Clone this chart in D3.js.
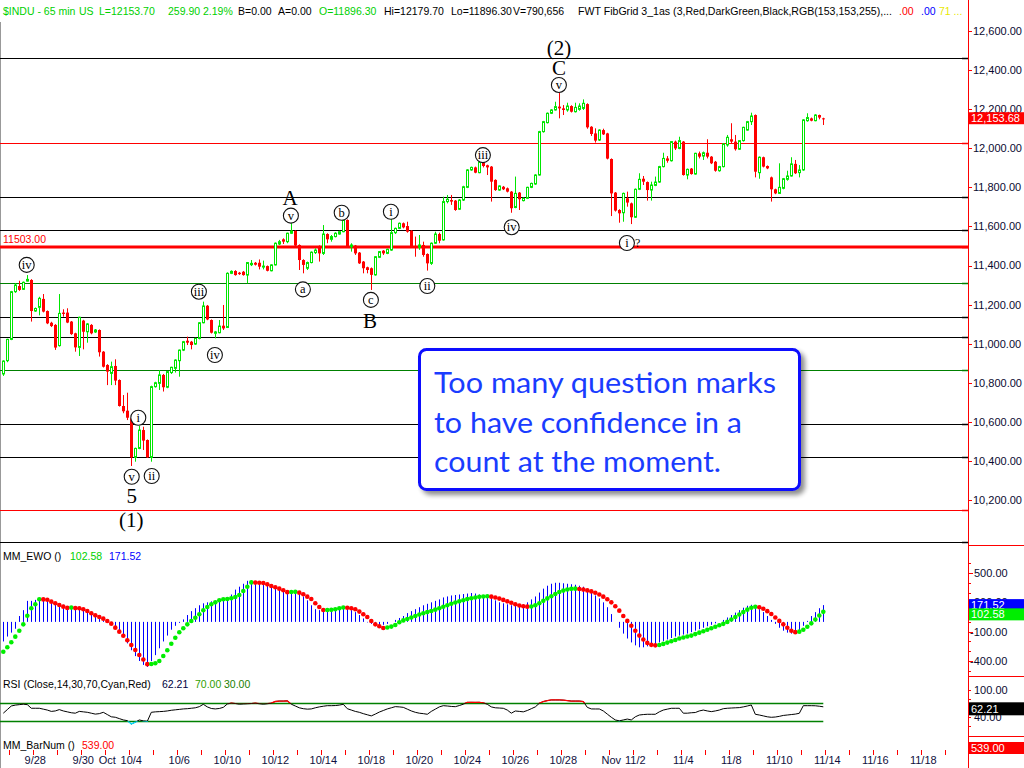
<!DOCTYPE html>
<html><head><meta charset="utf-8">
<script src="https://cdn.jsdelivr.net/npm/d3@7/dist/d3.min.js"></script>
<style>
html,body{margin:0;padding:0;background:#fff;overflow:hidden}
svg{display:block}
</style></head>
<body>
<svg id="chart" width="1024" height="768"></svg>
<script>
// ---------------- DATA ----------------
const opens = [10845,10913,11022,11266,11295,11278,11320,11326,11167,11186,11229,11167,11107,11096,10990,11159,11159,11113,11053,10981,11118,11061,11096,11060,11070,10959,10891,10848,10886,10814,10681,10657,10618,10418,10464,10558,10507,10418,10780,10797,10840,10777,10852,10874,10913,10967,11015,11010,10998,11027,11107,11194,11121,11053,11056,11092,11083,11360,11372,11363,11368,11351,11404,11414,11414,11394,11397,11373,11403,11510,11534,11522,11565,11577,11505,11428,11386,11415,11466,11500,11462,11561,11534,11548,11561,11573,11633,11496,11502,11466,11420,11391,11386,11352,11442,11476,11462,11479,11568,11590,11616,11602,11578,11500,11493,11505,11459,11411,11514,11561,11531,11727,11735,11732,11688,11735,11800,11889,11902,11875,11935,11913,11906,11838,11786,11803,11795,11778,11697,11773,11732,11744,11800,11817,11863,12085,12131,12179,12196,12213,12204,12196,12216,12187,12199,12204,12226,12110,12076,12042,12093,12076,11945,11773,11684,11670,11744,11718,11647,11790,11844,11827,11786,11810,11827,11906,11948,11936,12034,11999,12034,11863,11896,11868,11974,11960,11977,11957,11931,11885,11906,12017,12046,12034,11995,12039,12093,12136,12170,11875,11954,11909,11851,11790,11769,11795,11841,11858,11920,11875,11889,12141,12153,12141,12170,12153];
const highs = [10915,11025,11270,11310,11322,11318,11351,11330,11185,11240,11254,11170,11112,11100,11254,11176,11181,11116,11056,11138,11122,11105,11100,11075,11073,10962,10895,10908,10920,10817,10737,10749,10622,10468,10580,10575,10510,10785,10805,10865,10845,10860,10882,10920,10970,11014,11036,11014,11030,11110,11215,11198,11124,11065,11121,11198,11365,11375,11376,11367,11372,11418,11428,11418,11431,11425,11400,11406,11518,11531,11539,11568,11624,11580,11508,11432,11420,11472,11488,11503,11607,11565,11556,11570,11578,11636,11636,11514,11505,11469,11423,11394,11390,11448,11474,11479,11486,11641,11594,11620,11620,11624,11581,11548,11556,11522,11462,11518,11573,11568,11752,11761,11761,11735,11740,11808,11893,11906,11906,11935,11940,11916,11909,11841,11810,11807,11799,11781,11855,11776,11748,11803,11824,11867,12089,12140,12183,12200,12238,12285,12221,12233,12220,12233,12230,12250,12230,12113,12102,12097,12100,12079,11948,11776,11688,11773,11778,11722,11794,11872,11858,11830,11829,11855,11910,11977,11960,12037,12039,12059,12037,11896,11899,11977,11983,11983,12046,11960,11935,11910,12026,12068,12128,12068,12042,12110,12140,12182,12173,11958,11957,11912,11855,11793,11923,11848,11885,11954,11940,11914,12149,12179,12157,12174,12172,12156];
const lows = [10835,10905,11018,11260,11270,11275,11318,11113,11163,11145,11160,11100,11085,10968,10985,11138,11105,11045,10959,10937,10971,11005,11048,11055,10934,10878,10788,10788,10788,10678,10644,10609,10374,10396,10460,10456,10415,10396,10775,10763,10755,10772,10845,10852,10831,10962,10993,10971,10994,11022,11104,11120,11052,11027,11053,11070,11080,11356,11348,11352,11348,11309,11397,11400,11380,11380,11370,11370,11400,11505,11510,11514,11561,11499,11377,11360,11377,11411,11459,11420,11454,11514,11522,11544,11558,11570,11492,11471,11454,11408,11360,11360,11275,11348,11438,11454,11458,11475,11561,11586,11590,11568,11492,11445,11480,11445,11374,11403,11510,11514,11527,11718,11710,11680,11684,11730,11796,11885,11872,11872,11902,11863,11727,11782,11782,11786,11774,11670,11693,11684,11728,11740,11796,11813,11860,12080,12127,12175,12193,12153,12170,12187,12183,12183,12192,12196,12100,12063,12029,12037,12068,11943,11653,11676,11619,11624,11701,11612,11643,11786,11812,11732,11732,11806,11823,11902,11926,11932,11991,11995,11860,11841,11865,11865,11948,11940,11948,11919,11880,11880,11902,12008,12025,11988,11991,12034,12090,12119,11851,11844,11902,11893,11727,11765,11766,11790,11834,11855,11868,11851,11885,12136,12138,12138,12148,12119];
const closes = [10911,11022,11266,11300,11275,11314,11329,11167,11180,11232,11164,11104,11090,10980,11155,11152,11108,11049,10981,11135,11061,11101,11053,11070,10956,10882,10857,10882,10811,10681,10654,10621,10418,10464,10558,10504,10418,10780,10800,10840,10777,10857,10879,10916,10967,11010,11005,10993,11027,11107,11193,11124,11056,11060,11090,11078,11360,11370,11351,11356,11351,11415,11411,11404,11394,11397,11373,11403,11514,11522,11522,11565,11577,11502,11428,11403,11415,11468,11479,11462,11561,11534,11548,11565,11573,11633,11496,11505,11462,11411,11386,11377,11352,11445,11471,11462,11483,11568,11590,11616,11595,11573,11496,11493,11505,11454,11411,11514,11561,11527,11727,11739,11727,11684,11735,11803,11889,11902,11875,11931,11909,11902,11829,11786,11807,11790,11778,11693,11769,11739,11744,11800,11820,11863,12085,12136,12179,12196,12213,12204,12196,12216,12187,12209,12216,12230,12107,12073,12039,12093,12071,11947,11769,11681,11667,11769,11722,11647,11790,11841,11829,11786,11812,11827,11906,11948,11936,12034,11999,12039,11863,11892,11868,11974,11957,11977,11957,11923,11885,11906,12022,12056,12034,11995,12039,12107,12136,12165,11880,11954,11906,11897,11790,11769,11800,11844,11858,11920,11872,11889,12145,12157,12141,12170,12157,12150];

const ewoHist = [-200,-150,-110,-70,60,120,215,215,225,225,220,215,200,190,185,175,160,150,145,140,135,120,100,80,60,40,20,-10,-50,-100,-160,-220,-290,-350,-400,-440,-460,-400,-340,-270,-200,-140,-80,-40,-10,25,70,110,140,170,190,200,210,215,225,225,240,280,330,360,390,420,420,410,400,390,370,350,340,330,320,310,305,300,290,260,220,170,130,120,120,125,130,140,140,145,135,120,100,70,35,-5,-20,-30,-35,-30,-20,0,20,40,60,90,110,130,150,170,185,200,215,230,250,260,270,275,280,285,290,295,290,280,270,255,240,220,200,190,180,170,165,170,180,200,230,260,300,340,370,390,400,400,395,390,385,380,370,360,330,300,270,240,200,150,80,0,-60,-120,-170,-210,-240,-260,-260,-250,-240,-225,-210,-195,-180,-165,-150,-140,-130,-120,-105,-90,-75,-60,-45,-30,-15,0,20,45,70,95,120,145,165,175,160,130,100,60,20,-20,-60,-90,-110,-120,-115,-100,-40,10,60,100,140,171.52];
const ewoSignal = [-305,-260,-209,-151,-90,-25,63,139,180,232,230,226,207,190,173,156,143,146,141,139,129,111,88,67,50,33,9,-18,-59,-100,-141,-188,-236,-287,-338,-385,-432,-430,-423,-400,-349,-290,-223,-162,-106,-65,-25,9,43,78,119,152,180,200,221,231,234,241,255,275,316,360,404,402,401,398,384,367,354,340,323,304,305,307,299,282,258,234,190,152,121,122,123,129,139,147,145,139,129,105,78,50,9,-25,-45,-62,-58,-48,-32,-4,15,30,45,60,75,88,100,112,125,140,155,170,185,198,210,222,233,242,250,256,260,262,258,250,238,225,210,195,180,168,160,156,158,170,190,215,240,262,285,305,320,332,338,340,336,330,322,312,298,280,258,232,200,160,115,60,10,-40,-90,-140,-180,-215,-235,-240,-236,-225,-212,-198,-185,-170,-160,-150,-140,-125,-110,-95,-80,-65,-50,-35,-20,0,25,50,75,100,125,145,155,150,135,110,80,45,10,-25,-60,-90,-105,-100,-80,-50,-15,25,65,102.58];
const rsi = [48,56,64,66,67,68,67,59,59,59,57,55,52,53,56,53,51,49,48,52,51,50,48,46,47,50,45,40,39,36,33,31.5,24,28,33,31,30,50,51,51.5,52,53,54.5,55.5,56.5,57.5,58,59,60,62.5,67.8,62,58.5,57.5,58.5,61,68.5,70.5,69.5,68,68.5,69,69.5,70.3,69,68,69,70.3,74,75,75,75.5,68,64,60,58,57,57.5,60,62,63.5,64.7,64.7,65,66,67.8,58,55,52,50,47,44.5,42,46,50.5,54,57.5,60,62.6,62,61,57,53,50,48,47,45.6,52,57,62,64.7,64,63,62.5,65,68,72,72.2,72,72.2,71,67.8,62,60,59.5,58.9,55,48,52.9,52,51,54,58,62,70,74,76,77.4,77.4,77.4,77,76,75,75,75,74,61,57.5,57.4,57.4,53,46,39,33,31,33,35,33,40,44,45,45.6,45.6,45.6,51,55,57,58.9,58.9,59,48,48,49,49.5,53,55,53,51.5,53,55,58,59,59.5,60,60.4,62,64,66.3,45.6,44,42,40,38.9,39.5,41,43,44,45,46,47.8,64.7,64.7,64.7,64.5,63.5,62.21];

// price-axis ticks, fib grid levels, date labels (bar index of day start)
const priceTicks = [10200,10400,10600,10800,11000,11200,11400,11600,11800,12000,12200,12400,12600];
const fibBlack = [12462,11749,11580,11138,11033,10589,10419,9985];
const fibRed = [12027,10149];
const fibGreen = [11309,10865];
const fibMain = 11495, fibMainLabel = "11503.00";
const ewoTicks = [500,200,-100,-400];
const rsiTicks = [100,40];
const dateLabels = ["9/28","9/30","Oct","10/4","10/6","10/10","10/12","10/14","10/18","10/20","10/24","10/26","10/28","Nov","11/2","11/4","11/8","11/10","11/14","11/16","11/18"];
const dateBars   = [8,20,26,32,44,56,68,80,92,104,116,128,140,152,158,170,182,194,206,218,230];
const lastPrice = 12153.68, ewoVal = 102.58, ewoAvg = 171.52, rsiVal = 62.21, barNum = 539.00;

// wave annotations: label, bar index, price level
const circLabels = [["iv",5.85,11403],["iii",48.9,11266],["iv",52.9,10942],["i",33.75,10621],["v",32.1,10319],["ii",37.1,10323],
  ["v",71.9,11655],["a",74.9,11278],["b",84.6,11670],["c",91.9,11224],["i",96.9,11675],["ii",106,11295],["iii",119.9,11965],["iv",127.1,11596],
  ["v",138.9,12324],["i",155.9,11515]];
const bigLabels = [["5",32.1,10221],["(1)",32,10098],["A",71.7,11745],["B",91.7,11116],["(2)",138.9,12513],["C",138.9,12411]];
const qMarks = [["?",158.6,11515]];
const boxLines = ["Too many question marks","to have confidence in a","count at the moment."];

// ---------------- DRAW ----------------
const svg = d3.select("#chart");
const SANS = "'Liberation Sans', Arial, sans-serif";
const SERIF = "'Liberation Serif','Times New Roman',serif";
const GREEN = "#00e600", RED = "#ff0000";
const AX = 968.5;
const n = closes.length;
const x = d3.scaleLinear().domain([0, 241]).range([3.3, 967.3]);
const y = d3.scaleLinear().domain([10200, 12600]).range([500, 31]);
const yE = d3.scaleLinear().domain([-400, 500]).range([661, 573]);
const yR = d3.scaleLinear().domain([30, 70]).range([721.3, 703.3]);
const px = v => Math.round(v) + 0.5;

svg.append("rect").attr("width", 1024).attr("height", 768).attr("fill", "#fff");
const defs = svg.append("defs");
defs.append("clipPath").attr("id", "pclip").append("rect").attr("x", 0).attr("y", 22).attr("width", 968).attr("height", 523);
defs.append("clipPath").attr("id", "above70").append("rect").attr("x", 0).attr("y", 670).attr("width", 968).attr("height", yR(70) - 670);
defs.append("clipPath").attr("id", "below30").append("rect").attr("x", 0).attr("y", yR(30)).attr("width", 968).attr("height", 20);
const f = defs.append("filter").attr("id", "shadow").attr("x", "-10%").attr("y", "-10%").attr("width", "130%").attr("height", "140%");
f.append("feGaussianBlur").attr("in", "SourceAlpha").attr("stdDeviation", 2.5);
f.append("feOffset").attr("dx", 4).attr("dy", 4).attr("result", "ob");
f.append("feComponentTransfer").append("feFuncA").attr("type", "linear").attr("slope", 0.45);
const fm = f.append("feMerge"); fm.append("feMergeNode"); fm.append("feMergeNode").attr("in", "SourceGraphic");

// left border
svg.append("line").attr("x1", 0.5).attr("x2", 0.5).attr("y1", 22).attr("y2", 768).attr("stroke", "#999");

// ---- header ----
const HG = "#00d000", HK = "#000";
const header = [["$INDU - 65 min", HG, 3], ["US", HG, 79], ["L=12153.70", HG, 99], ["259.90", HG, 168], ["2.19%", HG, 203],
  ["B=0.00", HK, 238], ["A=0.00", HK, 278], ["O=11896.30", HG, 319], ["Hi=12179.70", HK, 384], ["Lo=11896.30", HK, 451],
  ["V=790,656", HK, 513], ["FWT FibGrid 3_1as (3,Red,DarkGreen,Black,RGB(153,153,255),...", HK, 578], [".00", "#ff0000", 899], [".00", "#0000ff", 921], ["71 ...", "#e8e800", 939]];
svg.append("g").selectAll("text").data(header).join("text")
  .attr("x", d => d[2]).attr("y", 15).attr("fill", d => d[1])
  .style("font-family", SANS).style("font-size", "10.5px").text(d => d[0])
  .each(function (d) { if (d[0].startsWith("FWT")) d3.select(this).attr("textLength", 314).attr("lengthAdjust", "spacingAndGlyphs"); });

// ---- price panel ----
const pp = svg.append("g").attr("clip-path", "url(#pclip)");
pp.selectAll("line.fb").data(fibBlack).join("line").attr("class", "fb")
  .attr("x1", 0).attr("x2", 968).attr("y1", d => px(y(d))).attr("y2", d => px(y(d))).attr("stroke", "#000").attr("stroke-width", 1.2);
pp.selectAll("line.fr").data(fibRed).join("line").attr("class", "fr")
  .attr("x1", 0).attr("x2", 968).attr("y1", d => px(y(d))).attr("y2", d => px(y(d))).attr("stroke", "#ff0000").attr("stroke-width", 1.2);
pp.selectAll("line.fg").data(fibGreen).join("line").attr("class", "fg")
  .attr("x1", 0).attr("x2", 968).attr("y1", d => px(y(d))).attr("y2", d => px(y(d))).attr("stroke", "#008000").attr("stroke-width", 1.2);
pp.append("line").attr("x1", 0).attr("x2", 968).attr("y1", y(fibMain)).attr("y2", y(fibMain)).attr("stroke", "#ff0000").attr("stroke-width", 3);
pp.append("text").attr("x", 3).attr("y", y(fibMain) - 4).attr("fill", "#ff0000")
  .style("font-family", SANS).style("font-size", "10.5px").text(fibMainLabel);

const bars = d3.range(n).map(i => ({ i, o: opens[i], h: highs[i], l: lows[i], c: closes[i] }));
const cg = pp.append("g");
const cand = cg.selectAll("g").data(bars).join("g");
cand.append("line")
  .attr("x1", d => px(x(d.i))).attr("x2", d => px(x(d.i)))
  .attr("y1", d => y(d.h)).attr("y2", d => y(d.l))
  .attr("stroke", d => d.c >= d.o ? GREEN : RED).attr("stroke-width", 1);
cand.append("rect")
  .attr("x", d => d.c >= d.o ? px(x(d.i)) - 1 : px(x(d.i)) - 1.5)
  .attr("width", d => d.c >= d.o ? 2 : 3)
  .attr("y", d => y(Math.max(d.o, d.c)))
  .attr("height", d => Math.max(y(Math.min(d.o, d.c)) - y(Math.max(d.o, d.c)), 1))
  .attr("fill", d => d.c >= d.o ? "#fff" : RED)
  .attr("stroke", d => d.c >= d.o ? GREEN : "none").attr("stroke-width", 1);

// annotations
const ag = pp.append("g");
const cl = ag.selectAll("g.c").data(circLabels).join("g").attr("class", "c")
  .attr("transform", d => `translate(${x(d[1])},${y(d[2])})`);
cl.append("circle").attr("r", 7.5).attr("fill", "#fff").attr("stroke", "#111").attr("stroke-width", 1.1);
cl.append("text").attr("text-anchor", "middle").attr("dy", "0.33em").attr("fill", "#000")
  .style("font-family", SERIF).style("font-size", "12.5px").text(d => d[0]);
ag.selectAll("text.big").data(bigLabels).join("text").attr("class", "big")
  .attr("x", d => x(d[1])).attr("y", d => y(d[2])).attr("dy", "0.35em").attr("text-anchor", "middle")
  .style("font-family", SERIF).style("font-size", "21px").attr("fill", "#000").text(d => d[0]);
ag.selectAll("text.q").data(qMarks).join("text").attr("class", "q")
  .attr("x", d => x(d[1])).attr("y", d => y(d[2])).attr("dy", "0.35em").attr("text-anchor", "middle")
  .style("font-family", SERIF).style("font-size", "12px").attr("fill", "#000").text(d => d[0]);

// text box
const bx = svg.append("g");
bx.append("rect").attr("x", 419.5).attr("y", 349.5).attr("width", 380).attr("height", 140).attr("rx", 7)
  .attr("fill", "#fff").attr("stroke", "#0a0aff").attr("stroke-width", 3).attr("filter", "url(#shadow)");
const boxLen = [342, 308, 287];
bx.selectAll("text").data(boxLines).join("text")
  .attr("x", 434).attr("y", (d, i) => 393 + i * 39.5).attr("fill", "#1a3cff")
  .attr("textLength", (d, i) => boxLen[i]).attr("lengthAdjust", "spacingAndGlyphs")
  .style("font-family", "Lato, 'Open Sans', sans-serif").style("font-size", "28px").text(d => d);

// ---- EWO panel ----
const eg = svg.append("g");
eg.append("text").attr("x", 3).attr("y", 560).style("font-family", SANS).style("font-size", "10.5px").attr("fill", "#000").text("MM_EWO ()");
eg.append("text").attr("x", 70).attr("y", 560).style("font-family", SANS).style("font-size", "10.5px").attr("fill", "#00d000").text(ewoVal.toFixed(2));
eg.append("text").attr("x", 109).attr("y", 560).style("font-family", SANS).style("font-size", "10.5px").attr("fill", "#0000ff").text(ewoAvg.toFixed(2));
eg.selectAll("line.h").data(ewoHist).join("line").attr("class", "h")
  .attr("x1", (d, i) => px(x(i))).attr("x2", (d, i) => px(x(i)))
  .attr("y1", yE(0)).attr("y2", d => yE(d)).attr("stroke", "#0000ff").attr("stroke-width", 1);
eg.selectAll("circle").data(ewoSignal).join("circle")
  .attr("cx", (d, i) => x(i)).attr("cy", d => yE(d)).attr("r", 2.3)
  .attr("fill", (d, i) => (i === 0 || d >= ewoSignal[i - 1]) ? "#00ee00" : "#ff0000");

// ---- RSI panel ----
const rg = svg.append("g");
rg.append("text").attr("x", 3).attr("y", 688).style("font-family", SANS).style("font-size", "10.5px").attr("fill", "#000").text("RSI (Close,14,30,70,Cyan,Red)");
rg.append("text").attr("x", 162).attr("y", 688).style("font-family", SANS).style("font-size", "10.5px").attr("fill", "#000040").text(rsiVal.toFixed(2));
rg.append("text").attr("x", 195).attr("y", 688).style("font-family", SANS).style("font-size", "10.5px").attr("fill", "#30a000").text("70.00");
rg.append("text").attr("x", 224).attr("y", 688).style("font-family", SANS).style("font-size", "10.5px").attr("fill", "#208000").text("30.00");
rg.selectAll("line.lv").data([70, 30]).join("line").attr("class", "lv")
  .attr("x1", 0).attr("x2", x(n - 1)).attr("y1", d => px(yR(d))).attr("y2", d => px(yR(d))).attr("stroke", "#008000").attr("stroke-width", 1.3);
const rl = d3.line().x((d, i) => x(i)).y(d => yR(d));
rg.append("path").attr("d", rl(rsi)).attr("fill", "none").attr("stroke", "#000").attr("stroke-width", 1);
rg.append("path").attr("d", rl(rsi)).attr("fill", "none").attr("stroke", "#ff0000").attr("stroke-width", 1.3).attr("clip-path", "url(#above70)");
rg.append("path").attr("d", rl(rsi)).attr("fill", "none").attr("stroke", "#00e0ff").attr("stroke-width", 1.3).attr("clip-path", "url(#below30)");

// ---- BarNum label ----
svg.append("text").attr("x", 3).attr("y", 749).style("font-family", SANS).style("font-size", "10.5px").attr("fill", "#000").text("MM_BarNum ()");
svg.append("text").attr("x", 82).attr("y", 749).style("font-family", SANS).style("font-size", "10.5px").attr("fill", "#ff0000").text(barNum.toFixed(2));

// ---- date axis ----
const dayStarts = d3.range(2, 242, 6);
svg.selectAll("line.dt").data(dayStarts).join("line").attr("class", "dt")
  .attr("x1", d => px(x(d) - 2)).attr("x2", d => px(x(d) - 2)).attr("y1", 750).attr("y2", 755).attr("stroke", "#ff0000");
svg.selectAll("text.dl").data(dateLabels).join("text").attr("class", "dl")
  .attr("x", (d, i) => x(dateBars[i])).attr("y", 764).attr("text-anchor", "middle")
  .style("font-family", SANS).style("font-size", "11px").attr("fill", "#101040").text(d => d);

// ---- right axis ----
const ra = svg.append("g");
ra.append("rect").attr("x", 969).attr("y", 0).attr("width", 55).attr("height", 768).attr("fill", "#fff");
ra.append("line").attr("x1", AX).attr("x2", AX).attr("y1", 0).attr("y2", 768).attr("stroke", "#ff0000");
[545, 676, 736].forEach(v => ra.append("line").attr("x1", 968).attr("x2", 1024).attr("y1", v + 0.5).attr("y2", v + 0.5).attr("stroke", "#ff0000"));
const fmtP = d3.format(",.2f");
ra.selectAll("line.pt").data(priceTicks).join("line").attr("class", "pt")
  .attr("x1", 968).attr("x2", 972).attr("y1", d => px(y(d))).attr("y2", d => px(y(d))).attr("stroke", "#ff0000");
ra.selectAll("text.pl").data(priceTicks).join("text").attr("class", "pl")
  .attr("x", 973).attr("y", d => y(d)).attr("dy", "0.36em")
  .style("font-family", SANS).style("font-size", "11px").attr("fill", "#0a0a30").text(d => fmtP(d));
// fib ticks on axis
[[fibBlack, "#000"], [fibRed, "#ff0000"], [fibGreen, "#008000"], [[fibMain], "#ff0000"]].forEach(([arr, c]) =>
  ra.selectAll(null).data(arr).join("line").attr("x1", 962).attr("x2", 968).attr("y1", d => px(y(d))).attr("y2", d => px(y(d))).attr("stroke", c).attr("stroke-width", 1.5));
// last price box
ra.append("rect").attr("x", 969).attr("y", y(lastPrice) - 6).attr("width", 55).attr("height", 12).attr("fill", "#ff0000");
ra.append("text").attr("x", 971).attr("y", y(lastPrice)).attr("dy", "0.36em").style("font-family", SANS).style("font-size", "11px").attr("fill", "#fff").text(fmtP(lastPrice));

// EWO axis
ra.selectAll("line.em").data(d3.range(-500, 601, 100)).join("line").attr("class", "em")
  .attr("x1", 968).attr("x2", 971).attr("y1", d => px(yE(d))).attr("y2", d => px(yE(d))).attr("stroke", "#ff0000");
ra.selectAll("line.et").data(ewoTicks).join("line").attr("class", "et")
  .attr("x1", 968).attr("x2", 973).attr("y1", d => px(yE(d))).attr("y2", d => px(yE(d))).attr("stroke", "#ff0000");
ra.selectAll("text.el").data(ewoTicks).join("text").attr("class", "el")
  .attr("x", d => d < 0 ? 970 : 974).attr("y", d => yE(d)).attr("dy", "0.36em")
  .style("font-family", SANS).style("font-size", "11px").attr("fill", "#0a0a30").text(d => d.toFixed(2));
ra.append("rect").attr("x", 969).attr("y", yE(ewoAvg) - 6).attr("width", 55).attr("height", 12).attr("fill", "#0000ff");
ra.append("text").attr("x", 971).attr("y", yE(ewoAvg)).attr("dy", "0.36em").style("font-family", SANS).style("font-size", "11px").attr("fill", "#fff").text(ewoAvg.toFixed(2));
ra.append("rect").attr("x", 969).attr("y", yE(ewoVal) - 3.5).attr("width", 55).attr("height", 12).attr("fill", "#00ee00");
ra.append("text").attr("x", 971).attr("y", yE(ewoVal) + 2.5).attr("dy", "0.36em").style("font-family", SANS).style("font-size", "11px").attr("fill", "#fff").text(ewoVal.toFixed(2));

// RSI axis
ra.selectAll("line.rm").data([100, 80, 60, 40, 20]).join("line").attr("class", "rm")
  .attr("x1", 968).attr("x2", 971).attr("y1", d => px(yR(d))).attr("y2", d => px(yR(d))).attr("stroke", "#ff0000");
ra.selectAll("text.rl").data(rsiTicks).join("text").attr("class", "rl")
  .attr("x", 974).attr("y", d => yR(d)).attr("dy", "0.36em")
  .style("font-family", SANS).style("font-size", "11px").attr("fill", "#0a0a30").text(d => d.toFixed(2));
ra.append("rect").attr("x", 969).attr("y", yR(rsiVal) - 4.5).attr("width", 55).attr("height", 13).attr("fill", "#000");
ra.append("text").attr("x", 971).attr("y", yR(rsiVal) + 2).attr("dy", "0.36em").style("font-family", SANS).style("font-size", "11px").attr("fill", "#fff").text(rsiVal.toFixed(2));

// BarNum box
ra.append("rect").attr("x", 969).attr("y", 742).attr("width", 55).attr("height", 12).attr("fill", "#ff0000");
ra.append("text").attr("x", 971).attr("y", 748).attr("dy", "0.36em").style("font-family", SANS).style("font-size", "11px").attr("fill", "#fff").text(barNum.toFixed(2));
</script>
</body></html>
